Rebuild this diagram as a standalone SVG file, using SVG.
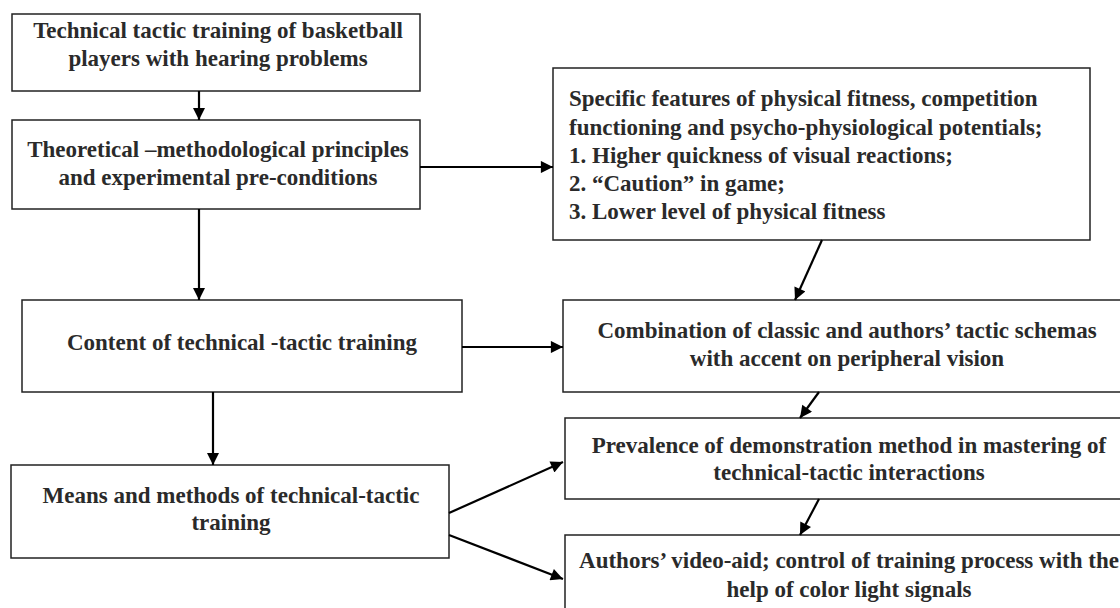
<svg xmlns="http://www.w3.org/2000/svg" width="1120" height="608" viewBox="0 0 1120 608">
<defs>
<style>
.box{fill:#fff;stroke:#222;stroke-width:1.5}
.t{font-family:"Liberation Serif","Times New Roman",serif;font-size:23px;font-weight:bold;fill:#2a2a2a}
.c{text-anchor:middle}
.con{stroke:#000;stroke-width:2.2;fill:none;marker-end:url(#ah)}
</style>
<marker id="ah" viewBox="0 0 10 10" refX="10" refY="5" markerWidth="6" markerHeight="5.5" markerUnits="strokeWidth" orient="auto">
<path d="M0,0 L10,5 L0,10 z" fill="#000"/>
</marker>
</defs>
<rect width="1120" height="608" fill="#fff"/>
<g id="n1"><rect class="box" x="12" y="14" width="408" height="77"/>
<text class="t c" x="218" y="38">Technical tactic training of basketball</text>
<text class="t c" x="218" y="66">players with hearing problems</text></g>
<g id="n2"><rect class="box" x="12" y="120" width="408" height="89"/>
<text class="t c" x="218" y="157">Theoretical –methodological principles</text>
<text class="t c" x="218" y="185">and experimental pre-conditions</text></g>
<g id="n3"><rect class="box" x="553" y="68" width="537" height="172"/>
<text class="t" x="569" y="106">Specific features of physical fitness, competition</text>
<text class="t" x="569" y="135">functioning and psycho-physiological potentials;</text>
<text class="t" x="569" y="163">1. Higher quickness of visual reactions;</text>
<text class="t" x="569" y="191">2. “Caution” in game;</text>
<text class="t" x="569" y="219">3. Lower level of physical fitness</text></g>
<g id="n4"><rect class="box" x="22" y="300" width="440" height="92"/>
<text class="t c" x="242" y="350">Content of technical -tactic training</text></g>
<g id="n5"><rect class="box" x="563" y="300" width="572" height="92"/>
<text class="t c" x="847" y="338">Combination of classic and authors’ tactic schemas</text>
<text class="t c" x="847" y="366">with accent on peripheral vision</text></g>
<g id="n6"><rect class="box" x="11" y="465" width="438" height="93"/>
<text class="t c" x="231" y="503">Means and methods of technical-tactic</text>
<text class="t c" x="231" y="530">training</text></g>
<g id="n7"><rect class="box" x="565" y="418" width="570" height="81"/>
<text class="t c" x="849" y="453">Prevalence of demonstration method in mastering of</text>
<text class="t c" x="849" y="480">technical-tactic interactions</text></g>
<g id="n8"><rect class="box" x="565" y="535" width="570" height="90"/>
<text class="t c" x="849" y="568">Authors’ video-aid; control of training process with the</text>
<text class="t c" x="849" y="597">help of color light signals</text></g>
<g id="connectors">
<line class="con" x1="199" y1="91" x2="199" y2="120"/>
<line class="con" x1="420" y1="167" x2="553" y2="167"/>
<line class="con" x1="199" y1="209" x2="199" y2="300"/>
<line class="con" x1="822" y1="240" x2="795" y2="300"/>
<line class="con" x1="462" y1="347" x2="563" y2="347"/>
<line class="con" x1="213" y1="392" x2="213" y2="465"/>
<line class="con" x1="819" y1="392" x2="800" y2="418"/>
<line class="con" x1="449" y1="513" x2="563" y2="462"/>
<line class="con" x1="449" y1="535" x2="563" y2="579"/>
<line class="con" x1="819" y1="499" x2="800" y2="535"/>
</g>
</svg>
